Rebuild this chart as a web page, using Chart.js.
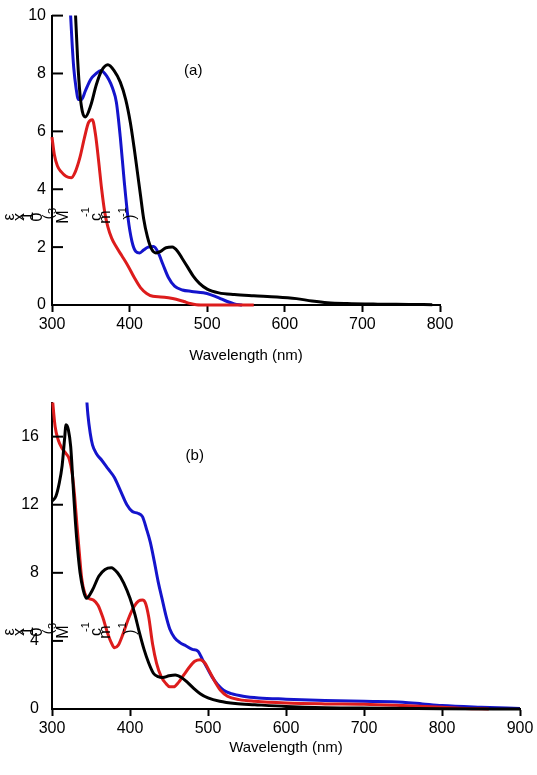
<!DOCTYPE html>
<html>
<head>
<meta charset="utf-8">
<script src="https://cdn.jsdelivr.net/npm/chart.js@4.4.0/dist/chart.umd.min.js"></script>
<style>
  body { margin: 0; background: #fff; }
  #wrapA { position: absolute; left: 0; top: 0; width: 537px; height: 375px; }
  #wrapB { position: absolute; left: 0; top: 380px; width: 537px; height: 395px; }
</style>
</head>
<body>
<div id="wrapA"><canvas id="chartA" width="537" height="375"></canvas></div>
<div id="wrapB"><canvas id="chartB" width="537" height="395"></canvas></div>
<script>
// ---- panel (a) ----
const blackA_nm = [328, 330, 333, 336, 339, 343, 350, 357, 364, 372, 380, 388, 395, 401, 406, 410, 414, 418, 423, 428, 434, 440, 447, 455, 462, 468, 475, 482, 490, 500, 515, 535, 560, 590, 615, 635, 655, 680, 720, 760, 790];
const blackA_eps = [11.5, 10.2, 8.5, 7.3, 6.7, 6.5, 6.9, 7.6, 8.1, 8.3, 8.1, 7.7, 7.1, 6.3, 5.4, 4.6, 3.8, 3.0, 2.35, 1.95, 1.8, 1.85, 1.98, 2.0, 1.85, 1.6, 1.3, 1.0, 0.75, 0.55, 0.42, 0.36, 0.32, 0.28, 0.22, 0.14, 0.08, 0.05, 0.03, 0.02, 0.01];

const blueA_nm = [322, 324, 326, 328, 331, 334, 338, 343, 350, 357, 363, 368, 373, 378, 383, 388, 393, 398, 403, 408, 413, 418, 424, 431, 437, 443, 450, 458, 468, 480, 495, 505, 515, 525, 535, 545];
const blueA_eps = [11, 10, 9.0, 8.2, 7.5, 7.1, 7.1, 7.4, 7.8, 8.0, 8.1, 8.0, 7.8, 7.5, 7.0, 5.8, 4.3, 3.0, 2.2, 1.85, 1.8, 1.9, 2.0, 2.02, 1.8, 1.4, 0.95, 0.65, 0.52, 0.47, 0.42, 0.35, 0.25, 0.13, 0.04, 0];

const redA_nm = [300, 303, 307, 312, 318, 325, 330, 336, 342, 347, 352, 356, 360, 364, 368, 372, 377, 383, 390, 398, 406, 414, 422, 430, 440, 450, 460, 470, 478, 486, 500, 530, 560];
const redA_eps = [5.8, 5.2, 4.8, 4.6, 4.45, 4.4, 4.6, 5.1, 5.8, 6.3, 6.4, 5.9, 5.0, 4.0, 3.2, 2.7, 2.3, 2.0, 1.7, 1.35, 0.95, 0.6, 0.4, 0.3, 0.28, 0.25, 0.2, 0.12, 0.05, 0.01, 0, 0, 0];

const xTicksA = [300, 400, 500, 600, 700, 800];
const yTicksA = [0, 2, 4, 6, 8, 10];

// ---- panel (b) ----
const blackB_nm = [300, 305, 309, 313, 316, 318, 321, 324, 327, 330, 333, 336, 340, 344, 352, 360, 368, 376, 384, 392, 400, 406, 412, 418, 424, 430, 436, 442, 450, 458, 466, 474, 482, 490, 500, 515, 535, 560, 600, 650, 720, 800, 900];
const blackB_eps = [12.2, 12.5, 13.2, 14.3, 15.8, 16.7, 16.4, 15.4, 13.2, 11.0, 9.3, 8.0, 7.0, 6.5, 7.0, 7.8, 8.2, 8.3, 8.0, 7.4, 6.5, 5.6, 4.5, 3.5, 2.7, 2.1, 1.9, 1.85, 1.95, 2.0, 1.85, 1.55, 1.2, 0.9, 0.65, 0.45, 0.32, 0.25, 0.15, 0.08, 0.05, 0.02, 0];

const redB_nm = [300, 304, 308, 313, 318, 322, 326, 329, 332, 335, 338, 342, 347, 353, 359, 365, 371, 376, 380, 385, 391, 398, 405, 411, 416, 420, 424, 429, 434, 440, 446, 451, 456, 462, 469, 476, 483, 490, 496, 502, 509, 516, 525, 540, 560, 600, 650, 700, 750, 800, 830, 860];
const redB_eps = [18.5, 16.6, 15.8, 15.3, 15.0, 14.7, 13.8, 12.5, 10.8, 9.2, 7.7, 6.8, 6.5, 6.4, 6.1, 5.4, 4.5, 3.9, 3.6, 3.75, 4.4, 5.3, 6.0, 6.35, 6.4, 6.2, 5.4, 3.8, 2.7, 1.9, 1.5, 1.3, 1.3, 1.55, 2.0, 2.45, 2.8, 2.9, 2.7, 2.2, 1.6, 1.1, 0.75, 0.55, 0.45, 0.35, 0.3, 0.28, 0.2, 0.1, 0.03, 0];

const blueB_nm = [344, 346, 349, 352, 357, 364, 372, 380, 388, 396, 403, 410, 416, 421, 426, 431, 436, 441, 446, 451, 457, 464, 472, 480, 487, 493, 499, 505, 512, 520, 530, 545, 565, 600, 650, 700, 750, 775, 800, 850, 900];
const blueB_eps = [18.5, 17.3, 16.2, 15.5, 15.0, 14.6, 14.1, 13.6, 12.8, 12.0, 11.6, 11.5, 11.3, 10.6, 9.8, 8.7, 7.5, 6.5, 5.5, 4.7, 4.2, 3.9, 3.7, 3.5, 3.4, 2.9, 2.4, 1.9, 1.45, 1.1, 0.9, 0.75, 0.65, 0.58, 0.5, 0.45, 0.4, 0.3, 0.2, 0.1, 0.03];

const xTicksB = [300, 400, 500, 600, 700, 800, 900];
const yTicksB = [0, 4, 8, 12, 16];

// broken y title: each glyph rotated on its own, laid out in a row
const yTitleText = ['ε', 'x', '1', '0', '3', '(', 'M', '-1', 'c', 'm', '-1', ')'];

const FONT = 'Arial, "Liberation Sans", sans-serif';
const BLACK = '#000000', RED = '#dd1c1c', BLUE = '#1414cc';

function pts(xs, ys) {
    return xs.map((x, i) => ({ x: x, y: ys[i] }));
}

function series(xs, ys, color) {
    return {
        data: pts(xs, ys),
        borderColor: color,
        borderWidth: 3,
        pointRadius: 0,
        showLine: true,
        fill: false,
        cubicInterpolationMode: 'monotone',
        clip: { left: 2, top: 0, right: 2, bottom: 2 }
    };
}

const decor = {
    id: 'decor',
    afterDraw(chart, args, opts) {
        const ctx = chart.ctx;
        const xs = chart.scales.x, ys = chart.scales.y;
        ctx.save();
        // y ticks point into the plot
        ctx.strokeStyle = '#000';
        ctx.lineWidth = 2;
        ys.ticks.forEach(t => {
            if (t.value === 0) return;
            const py = ys.getPixelForValue(t.value);
            ctx.beginPath();
            ctx.moveTo(xs.left, py);
            ctx.lineTo(xs.left + 11, py);
            ctx.stroke();
        });
        // panel tag
        ctx.fillStyle = '#000';
        ctx.font = '15px ' + FONT;
        ctx.textAlign = 'center';
        ctx.textBaseline = 'middle';
        ctx.fillText(opts.tag, xs.getPixelForValue(opts.tagAt[0]), ys.getPixelForValue(opts.tagAt[1]));
        // y title glyphs
        const place = [[10, 0, 16], [20, 0, 16], [29, -1, 16], [38, 0, 16], [53, -6, 11], [49, 0, 14],
                       [64, 0, 16], [86, -5, 11], [97, 0, 16], [106, 0, 16], [123, -5, 11], [131, 0, 16]];
        yTitleText.forEach((ch, i) => {
            const p = place[i];
            ctx.save();
            ctx.translate(p[0], opts.titleY + p[1]);
            ctx.rotate(-Math.PI / 2);
            ctx.font = p[2] + 'px ' + FONT;
            ctx.fillText(ch, 0, 0);
            ctx.restore();
        });
        ctx.restore();
    }
};

function makeChart(id, datasets, cfg) {
    const tickFont = { family: FONT, size: 16 };
    const titleFont = { family: FONT, size: 15 };
    return new Chart(document.getElementById(id).getContext('2d'), {
        type: 'scatter',
        data: { datasets: datasets },
        plugins: [decor],
        options: {
            responsive: false,
            animation: false,
            layout: { padding: { top: cfg.padTop, right: cfg.padRight, left: 0, bottom: 0 } },
            plugins: {
                legend: { display: false },
                tooltip: { enabled: false },
                decor: { tag: cfg.tag, tagAt: cfg.tagAt, titleY: cfg.titleY }
            },
            scales: {
                x: {
                    type: 'linear',
                    min: cfg.xTicks[0],
                    max: cfg.xTicks[cfg.xTicks.length - 1],
                    afterBuildTicks: s => { s.ticks = cfg.xTicks.map(v => ({ value: v })); },
                    afterFit: s => { s.height = cfg.xHeight; },
                    grid: { drawOnChartArea: false, drawTicks: true, tickLength: 7, tickWidth: 2, tickColor: '#000' },
                    border: { color: '#000', width: 2 },
                    ticks: { color: '#000', font: tickFont, padding: 3, maxRotation: 0, autoSkip: false },
                    title: {
                        display: true,
                        text: 'Wavelength (nm)',
                        color: '#000',
                        font: titleFont,
                        padding: { top: 0, bottom: cfg.titlePad }
                    }
                },
                y: {
                    min: 0,
                    max: cfg.yMax,
                    afterBuildTicks: s => { s.ticks = cfg.yTicks.map(v => ({ value: v })); },
                    afterFit: s => { s.width = 52; },
                    grid: { drawOnChartArea: false, drawTicks: false },
                    border: { color: '#000', width: 2 },
                    ticks: { color: '#000', font: tickFont, padding: cfg.yPad }
                }
            }
        }
    });
}

makeChart('chartA', [
    series(blackA_nm, blackA_eps, BLACK),
    series(redA_nm, redA_eps, RED),
    series(blueA_nm, blueA_eps, BLUE)
], {
    xTicks: xTicksA, yTicks: yTicksA, yMax: 10,
    padTop: 12, padRight: 97, xHeight: 70, titlePad: 10, yPad: 6,
    tag: '(a)', tagAt: [482, 8.1], titleY: 217
});

makeChart('chartB', [
    series(blackB_nm, blackB_eps, BLACK),
    series(redB_nm, redB_eps, RED),
    series(blueB_nm, blueB_eps, BLUE)
], {
    xTicks: xTicksB, yTicks: yTicksB, yMax: 18,
    padTop: 15, padRight: 17, xHeight: 66, titlePad: 18, yPad: 13,
    tag: '(b)', tagAt: [483, 14.9], titleY: 252
});
</script>
</body>
</html>
